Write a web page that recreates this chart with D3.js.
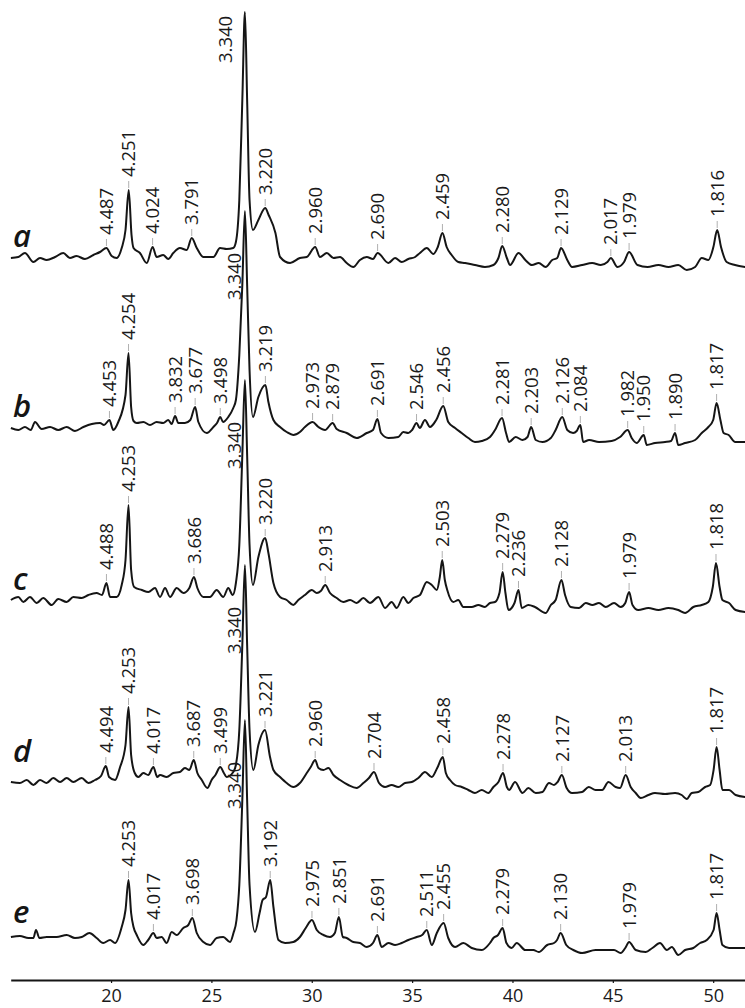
<!DOCTYPE html>
<html>
<head>
<meta charset="utf-8">
<script src="https://cdn.jsdelivr.net/npm/d3@7"></script>
<style>
  html, body { margin: 0; padding: 0; background: #fff; }
  svg { display: block; }
</style>
</head>
<body>
<svg id="chart" width="745" height="1008"></svg>
<script>
// ---------------------------------------------------------------
// XRD patterns of five samples (a–e), 2θ (°) vs. intensity (a.u.)
// Each scan is a list of [2θ, intensity] readings; labelled
// reflections are given as position, intensity and d-spacing (Å).
// ---------------------------------------------------------------

const sampleNames = ["a", "b", "c", "d", "e"];
const xTicks = [20, 25, 30, 35, 40, 45, 50];

// sample a
const scanA = [[15.01,12],[15.38,13],[15.71,17],[16.13,8],[16.46,12],[16.79,10],[17.21,13],[17.62,17],[17.95,12],[18.28,14],[18.70,11],[19.12,15],[19.45,18],
  [20.03,14],[20.28,12],[20.53,22],[20.72,40],[21.02,35],[21.12,22],[21.44,17],[21.78,7],
  [22.27,13],[22.60,15],[22.85,11],[23.10,17],[23.43,22],[23.77,20],[24.27,22],[24.60,13],[25.10,13],[25.43,22],[25.76,21],[26.09,22],[26.22,28],[26.39,70],[26.54,170],
  [26.78,170],[26.90,70],[27.07,40],[27.34,50],[27.85,55],[28.19,37],[28.42,13],[28.92,7],[29.41,12],[29.75,13],
  [30.41,13],[30.75,17],[31.08,12],[31.41,13],[31.74,7],[32.07,3],[32.40,10],[32.74,13],[33.05,11],
  [33.82,7],[34.15,12],[34.48,8],[34.81,11],[35.15,13],[35.39,17],[35.73,22],[36.06,16],[36.28,23],
  [36.72,23],[36.97,15],[37.30,8],[37.64,7],[38.13,5],[38.63,3],[39.05,5],[39.30,12],
  [39.72,12],[39.88,5],[40.30,17],[40.64,10],[40.97,5],[41.31,7],[41.65,3],[41.98,10],[42.23,12],
  [42.73,10],[42.97,3],[43.47,5],[43.97,7],[44.40,5],[44.73,8],[45.23,3],[45.56,8],
  [46.23,5],[46.73,3],[47.27,5],[47.77,3],[48.26,5],[48.68,0],[49.10,3],[49.43,12],[49.76,10],[50.01,23],
  [50.39,23],[50.67,8],[51.09,5],[51.59,3]];
const peakPosA = [19.77, 20.88, 22.07, 24.02, 26.67, 27.68, 30.17, 33.28, 36.51, 39.49, 42.42, 44.90, 45.81, 50.20];
const peakIntA = [22, 80, 23, 32, 258, 62, 23, 17, 37, 24, 22, 12, 18, 40];
const peakLabelA = ["4.487","4.251","4.024","3.791","3.340","3.220","2.960","2.690","2.459","2.280","2.129","2.017","1.979","1.816"];

// sample b
const scanB = [[15.01,17],[15.38,15],[15.71,18],[16.00,15],[16.21,23],[16.54,16],[16.96,18],[17.37,15],[17.79,18],[18.20,14],[18.62,18],[19.04,21],[19.45,22],[19.65,20],
  [20.11,15],[20.36,23],[20.72,50],[21.00,38],[21.12,24],[21.28,22],[21.61,23],[21.94,20],[22.27,23],[22.60,22],[22.85,25],[23.02,21],
  [23.35,22],[23.68,22],[23.95,25],[24.35,23],[24.77,12],[25.10,18],[25.28,22],[25.58,23],[25.84,28],[26.09,37],[26.22,45],[26.39,90],[26.54,160],
  [26.78,160],[26.90,75],[27.07,28],[27.34,48],[27.84,43],[28.09,25],[28.42,18],[28.75,13],[29.08,10],[29.41,13],[29.66,18],
  [30.33,18],[30.66,15],[31.24,16],[31.74,12],[32.24,7],[32.74,12],[33.05,15],
  [33.45,12],[33.82,7],[34.31,8],[34.56,13],[34.81,12],[35.00,15],[35.38,17],[35.64,25],[35.89,18],[36.20,25],
  [36.80,23],[37.14,17],[37.47,12],[37.80,7],[38.13,3],[38.47,4],[38.88,8],[39.13,15],
  [39.68,12],[39.83,3],[40.16,8],[40.50,5],[40.75,8],[41.16,5],[41.49,3],[41.91,7],[42.15,15],
  [42.73,15],[43.02,12],[43.20,14],[43.52,3],[43.82,5],[44.31,3],[44.94,4],[45.36,8],
  [45.94,7],[46.19,2],[46.69,0],[47.10,2],[47.60,3],[47.90,4],[48.26,0],[48.60,2],[49.10,5],[49.43,12],[49.76,18],[50.00,25],
  [50.36,25],[50.52,12],[50.77,10],[51.10,3],[51.59,3]];
const peakPosB = [19.92, 20.87, 23.19, 24.19, 25.44, 26.67, 27.69, 30.04, 31.04, 33.27, 35.22, 36.55, 39.48, 40.93, 42.48, 43.38, 45.74, 46.54, 48.10, 50.17];
const peakIntB = [25, 92, 29, 38, 28, 234, 60, 23, 22, 26, 22, 39, 27, 18, 28, 20, 15, 10, 12, 42];
const peakLabelB = ["4.453","4.254","3.832","3.677","3.498","3.340","3.219","2.973","2.879","2.691","2.546","2.456","2.281","2.203","2.126","2.084","1.982","1.950","1.890","1.817"];

// sample c
const scanC = [[15.01,15],[15.38,18],[15.63,13],[15.96,18],[16.30,12],[16.62,17],[17.04,10],[17.37,16],[17.79,13],[18.12,18],[18.54,17],[18.87,20],[19.28,22],[19.55,20],
  [19.95,18],[20.28,18],[20.53,30],[20.72,55],[21.00,45],[21.15,28],[21.53,25],[21.86,23],[22.19,27],[22.44,18],[22.69,27],[22.94,18],[23.27,27],[23.60,22],[23.90,27],
  [24.30,27],[24.60,18],[24.93,18],[25.26,25],[25.59,18],[25.84,27],[26.06,20],[26.22,32],[26.39,70],[26.54,160],
  [26.78,160],[26.90,70],[27.07,30],[27.34,58],[27.84,62],[28.09,32],[28.42,18],[28.75,15],[29.08,10],[29.33,15],[29.66,20],[30.00,25],[30.25,22],[30.45,24],
  [30.91,22],[31.24,17],[31.57,13],[31.91,15],[32.24,12],[32.57,17],[32.90,12],[33.32,18],[33.65,7],[33.98,13],[34.23,7],[34.56,18],[34.81,12],[35.06,17],[35.39,20],[35.73,33],[35.98,30],[36.23,25],[36.38,38],
  [36.63,35],[36.75,25],[37.05,13],[37.30,15],[37.55,8],[37.97,8],[38.30,10],[38.63,8],[38.88,12],[39.13,13],[39.35,22],
  [39.65,22],[39.80,5],[40.10,12],[40.46,7],[40.79,10],[41.12,8],[41.65,2],[41.91,10],[42.15,15],
  [42.62,20],[42.90,8],[43.32,7],[43.65,12],[43.98,10],[44.31,12],[44.65,8],[45.06,12],[45.39,8],[45.62,12],
  [45.98,10],[46.27,5],[46.77,7],[47.27,5],[47.77,7],[48.26,5],[48.60,2],[49.01,8],[49.43,10],[49.76,13],[49.98,28],
  [50.32,28],[50.46,15],[50.79,12],[51.12,5],[51.59,3]];
const peakPosC = [19.77, 20.87, 24.13, 26.67, 27.68, 30.67, 36.50, 39.51, 40.30, 42.44, 45.81, 50.14];
const peakIntC = [32, 110, 38, 235, 77, 30, 55, 43, 25, 35, 23, 52];
const peakLabelC = ["4.488","4.253","3.686","3.340","3.220","2.913","2.503","2.279","2.236","2.128","1.979","1.818"];

// sample d
const scanD = [[15.01,18],[15.46,17],[15.80,20],[16.13,15],[16.46,20],[16.79,17],[17.12,22],[17.46,18],[17.79,22],[18.12,18],[18.54,22],[18.87,17],[19.20,20],[19.50,24],
  [19.90,23],[20.20,20],[20.45,33],[20.72,55],[21.00,45],[21.18,27],[21.36,23],[21.61,27],[21.85,25],
  [22.30,23],[22.44,25],[22.77,23],[23.10,27],[23.43,28],[23.68,32],[23.90,30],[24.30,27],[24.52,20],[24.80,12],[25.01,20],[25.20,25],
  [25.62,27],[25.76,23],[26.09,28],[26.22,35],[26.39,70],[26.54,155],
  [26.78,155],[26.90,70],[27.09,30],[27.34,55],[27.92,43],[28.09,30],[28.42,23],[28.75,17],[29.08,13],[29.41,17],[29.75,27],[29.95,33],
  [30.33,32],[30.58,30],[30.83,32],[31.08,25],[31.41,20],[31.82,15],[32.24,12],[32.57,17],[32.85,22],
  [33.35,17],[33.65,13],[33.98,15],[34.31,13],[34.65,17],[34.98,18],[35.31,22],[35.64,28],[35.98,23],[36.25,32],
  [36.68,27],[36.89,20],[37.14,15],[37.47,13],[37.80,10],[38.13,7],[38.47,10],[38.80,7],[39.05,13],[39.30,18],
  [39.72,13],[39.83,10],[40.13,18],[40.50,7],[40.79,12],[41.16,7],[41.49,8],[41.82,17],[42.07,15],[42.25,18],
  [42.70,12],[42.97,7],[43.47,8],[43.80,13],[44.14,10],[44.47,10],[44.78,18],[45.14,13],[45.36,12],
  [45.89,13],[46.14,7],[46.39,2],[46.77,5],[47.10,7],[47.60,6],[48.10,7],[48.43,5],[48.68,1],[48.93,7],[49.26,8],[49.60,13],[49.85,15],[50.02,30],
  [50.32,30],[50.46,10],[50.79,10],[51.12,5],[51.59,3]];
const peakPosD = [19.74, 20.87, 22.11, 24.12, 25.44, 26.67, 27.67, 30.17, 33.10, 36.53, 39.53, 42.46, 45.64, 50.17];
const peakIntD = [34, 93, 33, 40, 33, 235, 70, 40, 28, 43, 27, 25, 25, 53];
const peakLabelD = ["4.494","4.253","4.017","3.687","3.499","3.340","3.221","2.960","2.704","2.458","2.278","2.127","2.013","1.817"];

// sample e
const scanE = [[15.01,18],[15.46,19],[15.88,17],[16.13,17],[16.26,25],[16.43,17],[16.79,18],[17.29,18],[17.79,20],[18.20,17],[18.54,18],[18.92,22],[19.28,17],[19.61,12],[19.95,15],[20.20,12],[20.53,28],[20.72,45],
  [21.00,42],[21.12,28],[21.28,20],[21.61,10],[21.85,15],
  [22.27,17],[22.52,18],[22.77,12],[23.02,23],[23.27,20],[23.60,27],[23.85,30],
  [24.27,22],[24.60,13],[24.93,10],[25.26,17],[25.59,18],[25.93,13],[26.10,22],[26.25,35],[26.39,70],[26.54,155],
  [26.78,155],[26.90,70],[27.17,23],[27.40,42],[27.55,55],[27.72,58],
  [28.09,48],[28.34,15],[28.67,12],[29.08,13],[29.41,18],[29.70,27],
  [30.25,25],[30.58,20],[30.91,18],[31.15,22],[31.55,18],[31.74,17],[32.07,13],[32.40,12],[32.74,8],[33.05,12],
  [33.48,8],[33.82,12],[34.15,10],[34.48,12],[34.81,15],[35.23,18],[35.50,20],[35.98,10],[36.23,22],
  [36.80,17],[37.14,8],[37.55,12],[37.97,7],[38.47,5],[38.88,12],[39.05,17],[39.28,20],
  [39.70,12],[39.96,7],[40.21,12],[40.64,5],[41.04,5],[41.31,3],[41.73,10],[42.07,12],[42.22,15],
  [42.68,10],[43.03,5],[43.47,2],[44.14,5],[44.65,5],[45.06,5],[45.39,2],[45.62,7],
  [46.14,5],[46.64,3],[46.97,7],[47.35,12],[47.69,5],[47.94,8],[48.26,0],[48.60,5],[49.01,7],[49.35,12],[49.68,15],[50.02,25],
  [50.32,25],[50.46,10],[50.79,7],[51.59,7]];
const peakPosE = [20.87, 22.11, 24.05, 26.67, 27.93, 30.01, 31.35, 33.27, 35.73, 36.57, 39.51, 42.40, 45.81, 50.17];
const peakIntE = [75, 22, 37, 235, 75, 35, 38, 20, 25, 32, 27, 22, 13, 42];
const peakLabelE = ["4.253","4.017","3.698","3.340","3.192","2.975","2.851","2.691","2.511","2.455","2.279","2.130","1.979","1.817"];

// ---------------------------------------------------------------
// Layout
// ---------------------------------------------------------------
const axisY = 980;
// vertical stacking offset of each pattern (intensity units)
const stackOffset = [730, 555, 385, 200, 45];
// how far the sample letter sits above the pattern's reference level
const letterLift = [23, 28, 25, 38, 32];

const samples = [
  { scan: scanA, pos: peakPosA, inten: peakIntA, label: peakLabelA },
  { scan: scanB, pos: peakPosB, inten: peakIntB, label: peakLabelB },
  { scan: scanC, pos: peakPosC, inten: peakIntC, label: peakLabelC },
  { scan: scanD, pos: peakPosD, inten: peakIntD, label: peakLabelD },
  { scan: scanE, pos: peakPosE, inten: peakIntE, label: peakLabelE }
];

const x = d3.scaleLinear().domain([15, 51.6]).range([10.7, 745.3]);
const y = d3.scaleLinear().domain([0, 1000]).range([1000, 0]);

const svg = d3.select("#chart");

const labelFont = "'Open Sans', 'Noto Sans', 'DejaVu Sans', sans-serif";
const labelSize = 18.5;

const line = d3.line()
  .x(d => x(d[0]))
  .y(d => y(d[1]))
  .curve(d3.curveMonotoneX);

samples.forEach((s, i) => {
  const off = stackOffset[i];
  const peaks = s.pos.map((p, k) => ({ t: p, I: s.inten[k], text: s.label[k] }));
  // merge the scan readings with the labelled peak maxima
  const pts = s.scan.map(d => [d[0], d[1] + off])
    .concat(peaks.map(p => [p.t, p.I + off]))
    .sort((a, b) => a[0] - b[0]);

  const g = svg.append("g").attr("class", "pattern pattern-" + sampleNames[i]);

  g.append("path")
    .datum(pts)
    .attr("fill", "none")
    .attr("stroke", "#151515")
    .attr("stroke-width", 2)
    .attr("stroke-linejoin", "round")
    .attr("d", line);

  // strongest reflection gets its label beside the peak
  const maxI = d3.max(peaks, p => p.I);

  peaks.forEach(p => {
    const px = x(p.t);
    const py = y(p.I + off);
    if (p.I === maxI) {
      const dx = i === 0 ? -20 : -11;
      const dy = i === 0 ? 51 : 89;
      g.append("text")
        .attr("transform", `translate(${px + dx},${py + dy}) rotate(-90)`)
        .attr("dy", "0.36em")
        .attr("font-family", labelFont)
        .attr("font-size", labelSize)
        .attr("fill", "#1a1a1a")
        .text(p.text);
      return;
    }
    g.append("line")
      .attr("x1", px).attr("x2", px)
      .attr("y1", py - 2).attr("y2", py - 9)
      .attr("stroke", "#b0b0b0")
      .attr("stroke-width", 1);
    g.append("text")
      .attr("transform", `translate(${px},${py - 13}) rotate(-90)`)
      .attr("dy", "0.36em")
      .attr("font-family", labelFont)
      .attr("font-size", labelSize)
      .attr("fill", "#1a1a1a")
      .text(p.text);
  });

  // sample letter
  svg.append("text")
    .attr("x", 13)
    .attr("y", y(off) - letterLift[i])
    .attr("font-family", labelFont)
    .attr("font-style", "italic")
    .attr("font-weight", 600)
    .attr("font-size", 31)
    .attr("fill", "#151515")
    .text(sampleNames[i]);
});

// 2θ axis
const axis = d3.axisBottom(x)
  .tickValues(xTicks)
  .tickSizeInner(3)
  .tickSizeOuter(0)
  .tickPadding(6)
  .tickFormat(d3.format("d"));

const ax = svg.append("g")
  .attr("transform", `translate(0,${axisY})`)
  .call(axis);

ax.select(".domain").attr("stroke", "#151515").attr("stroke-width", 2);
ax.selectAll(".tick line").attr("stroke", "#151515").attr("stroke-width", 1.2);
ax.selectAll(".tick text")
  .attr("font-family", labelFont)
  .attr("font-size", 18)
  .attr("fill", "#1a1a1a");
</script>
</body>
</html>
